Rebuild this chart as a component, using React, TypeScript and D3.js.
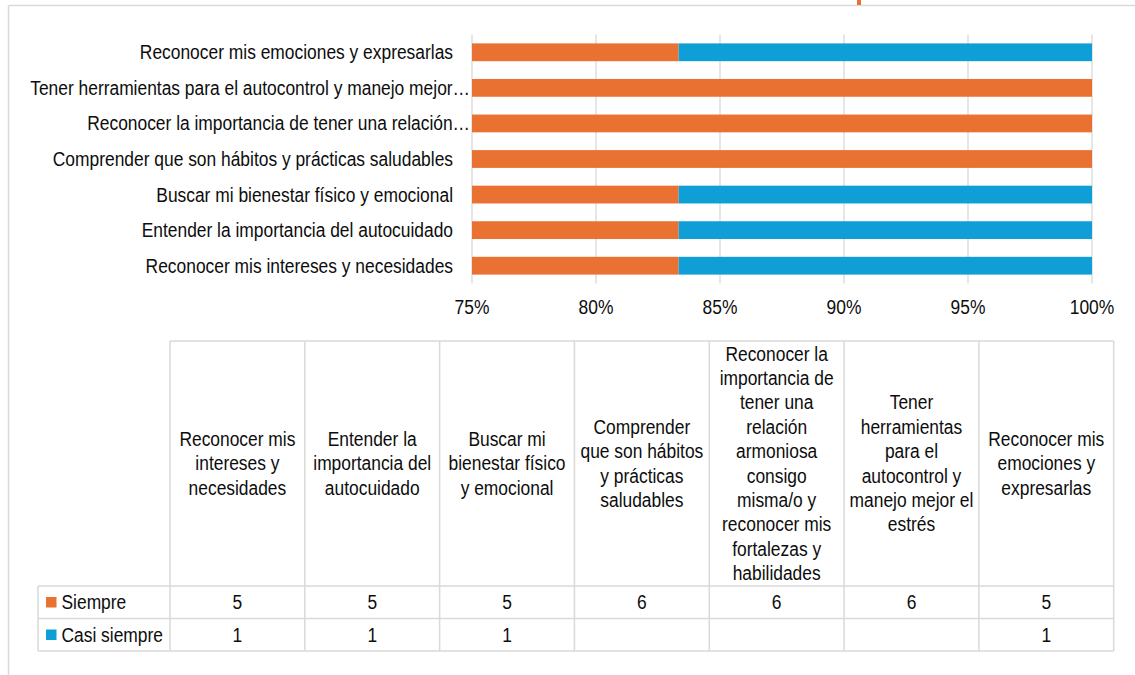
import React from "react";
import * as d3 from "d3";

const categories = [
  "Reconocer mis intereses y necesidades",
  "Entender la importancia del autocuidado",
  "Buscar mi bienestar físico y emocional",
  "Comprender que son hábitos y prácticas saludables",
  "Reconocer la importancia de tener una relación armoniosa consigo misma/o y reconocer mis fortalezas y habilidades",
  "Tener herramientas para el autocontrol y manejo mejor el estrés",
  "Reconocer mis emociones y expresarlas",
];
const axisLabels = [
  "Reconocer mis intereses y necesidades",
  "Entender la importancia del autocuidado",
  "Buscar mi bienestar físico y emocional",
  "Comprender que son hábitos y prácticas saludables",
  "Reconocer la importancia de tener una relación…",
  "Tener herramientas para el autocontrol y manejo mejor…",
  "Reconocer mis emociones y expresarlas",
];
const headerLines = [
  ["Reconocer mis", "intereses y", "necesidades"],
  ["Entender la", "importancia del", "autocuidado"],
  ["Buscar mi", "bienestar físico", "y emocional"],
  ["Comprender", "que son hábitos", "y prácticas", "saludables"],
  ["Reconocer la", "importancia de", "tener una", "relación", "armoniosa", "consigo", "misma/o y", "reconocer mis", "fortalezas y", "habilidades"],
  ["Tener", "herramientas", "para el", "autocontrol y", "manejo mejor el", "estrés"],
  ["Reconocer mis", "emociones y", "expresarlas"],
];
const seriesNames = ["Siempre", "Casi siempre"];
const siempre = [5, 5, 5, 6, 6, 6, 5];
const casiSiempre: (number | null)[] = [1, 1, 1, null, null, null, 1];
const xTickValues = [0.75, 0.8, 0.85, 0.9, 0.95, 1];

const ORANGE = "#E97132";
const BLUE = "#0F9ED5";
const GRID = "#d9d9d9";
const FONT = "'Liberation Sans', Arial, sans-serif";
const SX = 0.87;

function T({ x, y, anchor = "middle", children, size = 20 }: any) {
  return (
    <text
      transform={`translate(${x},${y}) scale(${SX},1)`}
      textAnchor={anchor}
      dominantBaseline="central"
      fontFamily={FONT}
      fontSize={size}
      fill="#0d0d0d"
    >
      {children}
    </text>
  );
}

export default function App() {
  const W = 1135, H = 675;
  const x = d3.scaleLinear().domain([0.75, 1]).range([472, 1092]);
  const y = d3
    .scaleBand<number>()
    .domain(d3.range(categories.length).reverse())
    .range([34.5, 283.5])
    .paddingInner(0.5)
    .paddingOuter(0.25);
  const fmt = d3.format(".0%");

  const tableLeft = 38, colStart = 170, colEnd = 1113.7;
  const col = d3.scaleBand<number>().domain(d3.range(categories.length)).range([colStart, colEnd]);
  const headTop = 341, row1 = 586, row2 = 618.5, row3 = 651;
  const lineH = 24.4;

  return (
    <svg width={W} height={H} style={{ position: "absolute", left: 0, top: 0 }}>
      <rect width={W} height={H} fill="#fff" />
      {/* frame */}
      <line x1={8.5} x2={W} y1={5.5} y2={5.5} stroke={GRID} strokeWidth={1.5} />
      <line x1={8.5} x2={8.5} y1={5.5} y2={H} stroke={GRID} strokeWidth={1.5} />
      <rect x={857} y={0} width={4} height={5} fill={ORANGE} />

      {/* gridlines */}
      {xTickValues.map((t) => (
        <line key={t} x1={x(t)} x2={x(t)} y1={34.5} y2={283.5} stroke={GRID} strokeWidth={1.3} />
      ))}

      {/* bars */}
      {categories.map((c, i) => {
        const total = siempre[i] + (casiSiempre[i] ?? 0);
        const p1 = siempre[i] / total;
        const yy = y(i)!;
        const bh = y.bandwidth();
        return (
          <g key={c}>
            <rect x={x(0.75)} y={yy} width={Math.max(0, x(p1) - x(0.75))} height={bh} fill={ORANGE} />
            {casiSiempre[i] ? (
              <rect x={x(p1)} y={yy} width={x(1) - x(p1)} height={bh} fill={BLUE} />
            ) : null}
          </g>
        );
      })}

      {/* category labels */}
      {axisLabels.map((l, i) => (
        <T key={l} x={l.endsWith("…") ? 470 : 453} y={y(i)! + y.bandwidth() / 2} anchor="end">
          {l}
        </T>
      ))}

      {/* x tick labels */}
      {xTickValues.map((t) => (
        <T key={t} x={x(t)} y={307.5}>
          {fmt(t)}
        </T>
      ))}

      {/* table borders */}
      <g stroke={GRID} strokeWidth={1.5}>
        <line x1={colStart} x2={colEnd} y1={headTop} y2={headTop} />
        <line x1={tableLeft} x2={colEnd} y1={row1} y2={row1} />
        <line x1={tableLeft} x2={colEnd} y1={row2} y2={row2} />
        <line x1={tableLeft} x2={colEnd} y1={row3} y2={row3} />
        <line x1={tableLeft} x2={tableLeft} y1={row1} y2={row3} />
        {d3.range(categories.length + 1).map((k) => {
          const xx = colStart + k * col.step();
          return <line key={k} x1={xx} x2={xx} y1={headTop} y2={row3} />;
        })}
      </g>

      {/* header text */}
      {headerLines.map((lines, i) => {
        const cx = col(i)! + col.bandwidth() / 2;
        const mid = (headTop + row1) / 2;
        const y0 = mid - ((lines.length - 1) * lineH) / 2;
        return (
          <g key={i}>
            {lines.map((ln, j) => (
              <T key={j} x={cx} y={y0 + j * lineH}>
                {ln}
              </T>
            ))}
          </g>
        );
      })}

      {/* legend rows */}
      <rect x={46} y={597} width={10.5} height={10.5} fill={ORANGE} />
      <T x={61.5} y={602.5} anchor="start">{seriesNames[0]}</T>
      <rect x={46} y={629.5} width={10.5} height={10.5} fill={BLUE} />
      <T x={61.5} y={635} anchor="start">{seriesNames[1]}</T>

      {/* values */}
      {siempre.map((v, i) => (
        <T key={"s" + i} x={col(i)! + col.bandwidth() / 2} y={602.5}>
          {v}
        </T>
      ))}
      {casiSiempre.map((v, i) =>
        v == null ? null : (
          <T key={"c" + i} x={col(i)! + col.bandwidth() / 2} y={635}>
            {v}
          </T>
        )
      )}
    </svg>
  );
}
